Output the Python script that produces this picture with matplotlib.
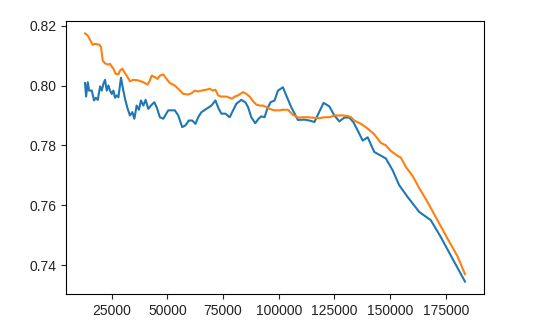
import matplotlib
matplotlib.use("Agg")
import matplotlib.pyplot as plt

plt.rcParams['font.family'] = ['Liberation Sans', 'DejaVu Sans']

# blue series (C0)
x_blue = [13000, 13490, 14250, 14830, 16040, 17070, 17830, 18730, 19760, 20520,
          21280, 22000, 22760, 23520, 24240, 25000, 25760, 26480, 27240, 28000,
          29160, 29930, 30960, 32160, 33190, 34270, 35170, 36200, 37220, 38120,
          39200, 40230, 41430, 42600, 44120, 45150, 46630, 48150, 50390, 53350,
          54870, 56660, 58140, 59620, 61140, 62610, 63820, 65300, 67540, 69780,
          71570, 73050, 74260, 76050, 77980, 79500, 80980, 83210, 85010, 86210,
          87690, 89480, 90960, 92170, 93650, 94860, 96330, 98130, 99650, 101890,
          103370, 105600, 108610, 111560, 113800, 116040, 118010, 120160, 122760, 124990,
          127230, 129470, 131710, 133590, 136190, 137710, 139950, 142910, 148150, 151150,
          154100, 157860, 163060, 168300, 172770, 178010, 183660]
y_blue = [0.8008, 0.7963, 0.8011, 0.7983, 0.7983, 0.7950, 0.7959, 0.7952, 0.7997, 0.7983,
          0.8006, 0.8019, 0.7983, 0.8000, 0.7983, 0.7972, 0.7983, 0.7959, 0.7967, 0.7961,
          0.8026, 0.7994, 0.7956, 0.7922, 0.7900, 0.7911, 0.7889, 0.7933, 0.7919, 0.7950,
          0.7933, 0.7952, 0.7922, 0.7933, 0.7944, 0.7928, 0.7894, 0.7889, 0.7917, 0.7917,
          0.7900, 0.7861, 0.7867, 0.7883, 0.7883, 0.7872, 0.7894, 0.7911, 0.7922, 0.7933,
          0.7950, 0.7922, 0.7906, 0.7906, 0.7894, 0.7917, 0.7939, 0.7952, 0.7944, 0.7928,
          0.7894, 0.7874, 0.7889, 0.7897, 0.7894, 0.7922, 0.7944, 0.7950, 0.7983, 0.7994,
          0.7967, 0.7928, 0.7885, 0.7886, 0.7883, 0.7878, 0.7909, 0.7942, 0.7930, 0.7900,
          0.7880, 0.7893, 0.7893, 0.7877, 0.7839, 0.7816, 0.7827, 0.7778, 0.7756, 0.7717,
          0.7667, 0.7628, 0.7578, 0.7550, 0.7494, 0.7422, 0.7345]

# orange series (C1)
x_orange = [13000, 14250, 15280, 16490, 17520, 19490, 20210, 20970, 22000, 23210,
            24240, 25000, 25760, 26210, 26790, 28000, 28720, 29790, 30690, 31720,
            33190, 34720, 36960, 39200, 41120, 42150, 42910, 44390, 45600, 46630,
            48150, 49630, 51110, 53350, 54870, 57110, 59350, 60820, 62300, 63820,
            65300, 67540, 69020, 70540, 71570, 72780, 74260, 76500, 77980, 79050,
            80210, 81740, 83980, 85450, 86930, 88450, 89930, 91410, 92930, 94410,
            95890, 98130, 100370, 101890, 104130, 106370, 108610, 110840, 113080, 116040,
            118280, 120520, 122760, 125310, 128760, 130990, 132470, 133950, 134710, 136950,
            139950, 142910, 145910, 148150, 150380, 153380, 154860, 157100, 160100, 163060,
            166820, 171300, 175780, 180260, 183660]
y_orange = [0.8174, 0.8167, 0.8152, 0.8136, 0.8139, 0.8136, 0.8128, 0.8083, 0.8074, 0.8070,
            0.8072, 0.8063, 0.8056, 0.8048, 0.8039, 0.8037, 0.8050, 0.8056, 0.8044, 0.8033,
            0.8014, 0.8019, 0.8017, 0.8011, 0.8003, 0.8017, 0.8033, 0.8028, 0.8022, 0.8033,
            0.8037, 0.8022, 0.8008, 0.8000, 0.7989, 0.7972, 0.7970, 0.7974, 0.7983, 0.7980,
            0.7983, 0.7986, 0.7989, 0.7983, 0.7986, 0.7967, 0.7963, 0.7963, 0.7959, 0.7956,
            0.7963, 0.7967, 0.7978, 0.7972, 0.7963, 0.7948, 0.7936, 0.7933, 0.7933, 0.7928,
            0.7922, 0.7917, 0.7917, 0.7919, 0.7919, 0.7902, 0.7893, 0.7894, 0.7894, 0.7892,
            0.7891, 0.7894, 0.7894, 0.7900, 0.7900, 0.7898, 0.7894, 0.7883, 0.7880, 0.7872,
            0.7856, 0.7837, 0.7808, 0.7800, 0.7781, 0.7765, 0.7759, 0.7728, 0.7698, 0.7658,
            0.7611, 0.7550, 0.7489, 0.7430, 0.7370]

fig = plt.figure(figsize=(5.46, 3.36), dpi=100)
ax = fig.add_axes([66 / 546, 42 / 336, 418 / 546, 273 / 336])
ax.plot(x_blue, y_blue)
ax.plot(x_orange, y_orange)
ax.set_yticks([0.74, 0.76, 0.78, 0.80, 0.82])
ax.set_xticks([25000, 50000, 75000, 100000, 125000, 150000, 175000])
ax.tick_params(labelsize=10, colors='#222222', labelcolor='#222222')

fig.savefig("out.png", dpi=100)
